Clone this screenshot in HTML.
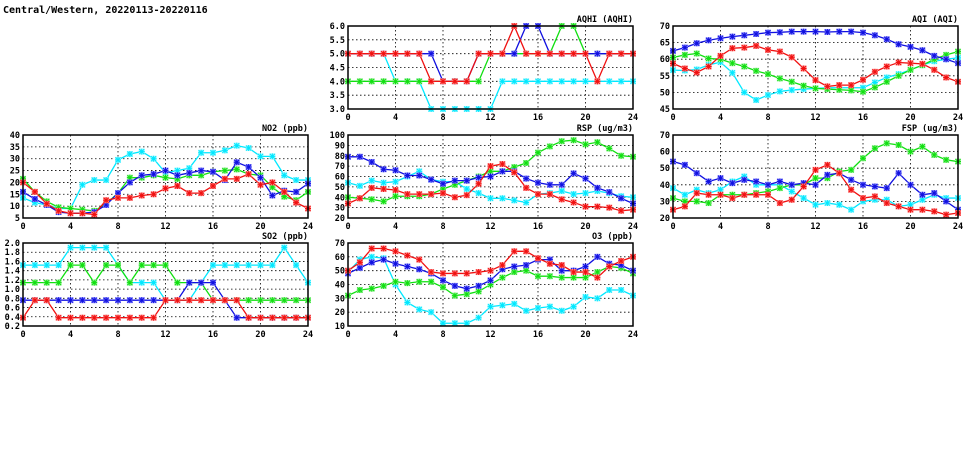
<!DOCTYPE html>
<html><head><meta charset="utf-8"><style>
body{margin:0;background:#fff;width:975px;height:447px;overflow:hidden}
svg text{font-family:"DejaVu Sans Mono","Liberation Mono",monospace;font-weight:bold;font-size:8.5px;fill:#000}
</style></head><body>
<svg id="c" width="975" height="447">
<text x="3" y="13" style="font-size:10px">Central/Western, 20220113-20220116</text>
</svg>
<script>
const hours=[0,1,2,3,4,5,6,7,8,9,10,11,12,13,14,15,16,17,18,19,20,21,22,23,24];
const xTicks=[0,4,8,12,16,20,24];
const aqhiCyan=[5,5,5,5,4,4,4,3,3,3,3,3,3,4,4,4,4,4,4,4,4,4,4,4,4];
const aqhiGreen=[4,4,4,4,4,4,4,4,4,4,4,4,5,5,5,5,5,5,6,6,5,5,5,5,5];
const aqhiBlue=[5,5,5,5,5,5,5,5,4,4,4,5,5,5,5,6,6,5,5,5,5,5,5,5,5];
const aqhiRed=[5,5,5,5,5,5,5,4,4,4,4,5,5,5,6,5,5,5,5,5,5,4,5,5,5];
const aqiCyan=[56.7,56.6,56.9,58.3,59.1,55.9,50,47.7,49.2,50.3,50.7,51,51.2,51.4,51.4,51.4,51.4,53,54.5,55.5,56.8,58.2,59.4,60,60.4];
const aqiGreen=[60.5,61.3,61.7,60.2,60,58.8,57.8,56.5,55.5,54.2,53.2,52,51.2,51,50.8,50.6,50.2,51.5,53.2,55,56.8,58.2,60,61.3,62.3];
const aqiBlue=[62.5,63.5,64.8,65.7,66.3,66.8,67.2,67.6,68,68.1,68.3,68.3,68.3,68.2,68.3,68.3,68,67.2,66,64.5,63.7,62.7,61,60,58.8];
const aqiRed=[58.7,57.2,56,57.8,61,63.3,63.5,64,62.8,62.3,60.6,57.2,53.7,51.8,52.2,52.2,53.8,56.2,57.8,59,58.8,58.6,56.8,54.5,53.2];
const no2Cyan=[13.5,11.5,10.5,9,9,19,21,21,29.5,32,33,30,24,25,26,32.5,32.5,33.5,35.5,34.5,31,31,23,21,21];
const no2Green=[21.5,16,12,9.5,9,8.5,8,11,15.5,22,22,23,22,21.5,23,23,24.5,25,25.5,23.5,23,18,14,12.5,16];
const no2Blue=[16,13,10.5,7.5,7,7,7.5,10.5,15.5,20,23,23.5,25,23,24,25,24.5,21,28.5,26.5,22,14.5,16.5,16,19.5];
const no2Red=[20,16,11,8,7,7,6.5,12.5,13.5,13.5,14.5,15,17.5,18.5,15.5,15.5,18.5,21.5,21.5,23.5,19,20,16,11.5,9];
const rspCyan=[54,51,56,54,55,60,65,57,55,55,48,44,39,39,37,35,43,44,46,43,44,46,44,41,40];
const rspGreen=[40,39,38,36,41,41,41,43,48,52,56,60,65,65,69,73,83,89,94,95,91,93,87,80,79];
const rspBlue=[79,79,74,67,66,61,61,57,53,56,56,59,60,65,65,58,54,52,52,63,58,49,45,39,34];
const rspRed=[34,39,49,48,47,43,43,43,44,40,42,53,70,72,64,49,43,43,38,35,31,31,30,27,28];
const fspCyan=[38,34,37,35,37,42,45,40,40,40,36,32,28,29,28,25,30,31,31,27,28,31,34,32,32];
const fspGreen=[32,30,30,29,34,34,34,35,36,38,40,40,44,44,48,49,56,62,65,64,60,63,58,55,54];
const fspBlue=[54,52,47,42,44,41,43,42,40,42,40,41,40,46,47,43,40,39,38,47,40,34,35,30,25];
const fspRed=[25,27,35,34,34,32,34,34,34,29,31,39,49,52,47,37,32,33,29,27,25,25,24,22,23];
const so2Cyan=[1.52,1.52,1.52,1.52,1.9,1.9,1.9,1.9,1.52,1.14,1.14,1.14,0.76,0.76,0.76,1.14,1.52,1.52,1.52,1.52,1.52,1.52,1.9,1.52,1.14];
const so2Green=[1.14,1.14,1.14,1.14,1.52,1.52,1.14,1.52,1.52,1.14,1.52,1.52,1.52,1.14,1.14,1.14,0.76,0.76,0.76,0.76,0.76,0.76,0.76,0.76,0.76];
const so2Blue=[0.76,0.76,0.76,0.76,0.76,0.76,0.76,0.76,0.76,0.76,0.76,0.76,0.76,0.76,1.14,1.14,1.14,0.76,0.38,0.38,0.38,0.38,0.38,0.38,0.38];
const so2Red=[0.38,0.76,0.76,0.38,0.38,0.38,0.38,0.38,0.38,0.38,0.38,0.38,0.76,0.76,0.76,0.76,0.76,0.76,0.76,0.38,0.38,0.38,0.38,0.38,0.38];
const o3Cyan=[49,58,60,59,40,27,22,20,12,12,12,16,24,25,26,21,23,24,21,24,31,30,36,36,32];
const o3Green=[32,36,37,39,42,41,42,42,38,32,33,35,40,45,49,50,46,46,45,45,45,49,53,52,48];
const o3Blue=[48,52,56,58,55,53,51,48,43,39,37,39,43,51,53,54,58,58,50,50,53,60,55,54,50];
const o3Red=[50,56,66,66,64,61,58,49,48,48,48,49,50,54,64,64,59,55,54,49,49,45,53,57,60];
const aqhiTicks=[3,3.5,4,4.5,5,5.5,6];
const aqiTicks=[45,50,55,60,65,70];
const no2Ticks=[5,10,15,20,25,30,35,40];
const rspTicks=[20,30,40,50,60,70,80,90,100];
const fspTicks=[20,30,40,50,60,70];
const so2Ticks=[0.2,0.4,0.6,0.8,1.0,1.2,1.4,1.6,1.8,2.0];
const o3Ticks=[10,20,30,40,50,60,70];

const NS="http://www.w3.org/2000/svg";
const svg=document.getElementById('c');
function mk(t,a,p){const e=document.createElementNS(NS,t);for(const k in a)e.setAttribute(k,a[k]);(p||svg).appendChild(e);return e;}
const colors={cyan:"#00e8ff",green:"#10e010",blue:"#1010e0",red:"#f01010"};
const light={cyan:"#a0f8ff",green:"#a0f0a0",blue:"#9090ff",red:"#ff9090"};
function panel(name,title,L,T,yTicks,dec,series){
  const W=285,H=83,y0=yTicks[0],y1=yTicks[yTicks.length-1];
  const g=mk('g',{});
  
  
  const xs=v=>L+v/24*W, ys=v=>T+H-(v-y0)/(y1-y0)*H;
  yTicks.forEach((t,i)=>{
    if(i>0&&i<yTicks.length-1){const l=mk('line',{x1:L,x2:L+W,y1:ys(t),y2:ys(t),stroke:"#000","stroke-width":0.8,"stroke-dasharray":"1.5,2.5"},g);}
    const tx=mk('text',{x:L-3,y:ys(t)+3,"text-anchor":"end"},g);tx.textContent=t.toFixed(dec);
    
  });
  xTicks.forEach((t,i)=>{
    if(i>0&&i<xTicks.length-1){const l=mk('line',{x1:xs(t),x2:xs(t),y1:T,y2:T+H,stroke:"#000","stroke-width":0.8,"stroke-dasharray":"1.5,2.5"},g);}
    const tx=mk('text',{x:xs(t),y:T+H+11,"text-anchor":"middle"},g);tx.textContent=t;
    
  });
  const ti=mk('text',{x:L+W,y:T-4,"text-anchor":"end"},g);ti.textContent=title;
  
  series.forEach(([c,vals])=>{
    const pl=mk('polyline',{points:vals.map((v,i)=>xs(hours[i])+","+ys(v)).join(" "),fill:"none",stroke:colors[c],"stroke-width":1.3},g);
    
    vals.forEach((v,i)=>{
      const x=xs(hours[i]),y=ys(v);
      const m=mk('g',{},g);
      
      mk('rect',{x:x-3,y:y-3,width:6,height:6,fill:light[c]},m);
      mk('path',{d:`M${x-3} ${y}H${x+3}M${x} ${y-3}V${y+3}M${x-2.5} ${y-2.5}L${x+2.5} ${y+2.5}M${x-2.5} ${y+2.5}L${x+2.5} ${y-2.5}`,stroke:colors[c],"stroke-width":1},m);
    });
  });
  const b=mk('rect',{x:L,y:T,width:W,height:H,fill:"none",stroke:"#000","stroke-width":1.5},g);
  
}
panel('aqhi','AQHI (AQHI)',348,26,aqhiTicks,1,[['cyan',aqhiCyan],['green',aqhiGreen],['blue',aqhiBlue],['red',aqhiRed]]);
panel('aqi','AQI (AQI)',673,26,aqiTicks,0,[['cyan',aqiCyan],['green',aqiGreen],['blue',aqiBlue],['red',aqiRed]]);
panel('no2','NO2 (ppb)',23,135,no2Ticks,0,[['cyan',no2Cyan],['green',no2Green],['blue',no2Blue],['red',no2Red]]);
panel('rsp','RSP (ug/m3)',348,135,rspTicks,0,[['cyan',rspCyan],['green',rspGreen],['blue',rspBlue],['red',rspRed]]);
panel('fsp','FSP (ug/m3)',673,135,fspTicks,0,[['cyan',fspCyan],['green',fspGreen],['blue',fspBlue],['red',fspRed]]);
panel('so2','SO2 (ppb)',23,243,so2Ticks,1,[['cyan',so2Cyan],['green',so2Green],['blue',so2Blue],['red',so2Red]]);
panel('o3','O3 (ppb)',348,243,o3Ticks,0,[['cyan',o3Cyan],['green',o3Green],['blue',o3Blue],['red',o3Red]]);
</script>
</body></html>
